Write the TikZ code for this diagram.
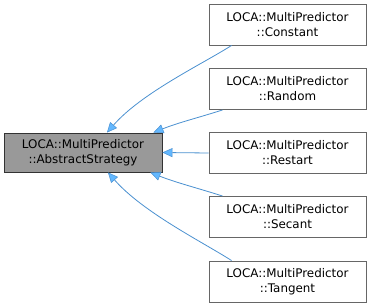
\documentclass[tikz,border=0pt]{standalone}
\usepackage{fontspec}
\setmainfont{DejaVu Sans}
\usetikzlibrary{arrows.meta,calc}
\definecolor{edgeblue}{HTML}{4A90D0}
\definecolor{tipblue}{HTML}{63B8FF}
\tikzset{
  cls/.style={draw=black!60, line width=0.9pt, fill=white, minimum width=157pt,
    minimum height=41pt, inner sep=0pt, align=center,
    font=\fontsize{11.9}{15}\selectfont},
  basecls/.style={cls, fill=black!40, draw=black!80},
  inherit/.style={draw=edgeblue, line width=0.8pt,
    -{Triangle[length=10pt,width=9pt,fill=tipblue,line width=0.5pt]}}
}
\begin{document}
\begin{tikzpicture}[x=1pt,y=-1pt]
  \useasboundingbox (0,0) rectangle (371,307);
  % base class
  \node[basecls, minimum width=158pt, minimum height=39pt] (base) at (83,152.5)
    {LOCA::MultiPredictor\\::AbstractStrategy};
  % derived classes
  \node[cls] (constant) at (287.5,24.5) {LOCA::MultiPredictor\\::Constant};
  \node[cls] (random)   at (287.5,89)   {LOCA::MultiPredictor\\::Random};
  \node[cls] (restart)  at (287.5,153)  {LOCA::MultiPredictor\\::Restart};
  \node[cls] (secant)   at (287.5,217)  {LOCA::MultiPredictor\\::Secant};
  \node[cls] (tangent)  at (287.5,281.5){LOCA::MultiPredictor\\::Tangent};
  % inheritance edges
  \draw[inherit] ($(constant.south west)+(23,0)$)
    .. controls +(-28,18) and +(35,-40) .. ($(base.north)+(24,0)$);
  \draw[inherit] ($(random.south west)+(14,0)$)
    .. controls +(-25,8) and +(25,-10) .. ($(base.north east)+(-9,0)$);
  \draw[inherit] (restart.west) -- (base.east);
  \draw[inherit] ($(secant.north west)+(14,0)$)
    .. controls +(-25,-8) and +(25,10) .. ($(base.south east)+(-12,0)$);
  \draw[inherit] ($(tangent.north west)+(23,0)$)
    .. controls +(-28,-18) and +(35,40) .. ($(base.south)+(25,0)$);
\end{tikzpicture}
\end{document}
